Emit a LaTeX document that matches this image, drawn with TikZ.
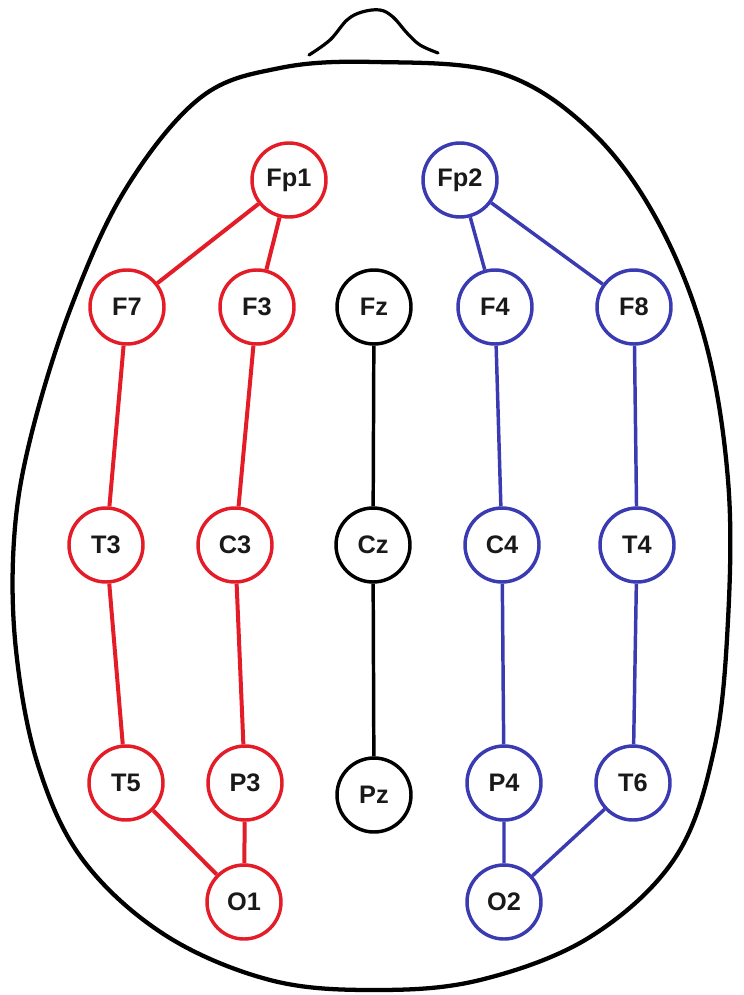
\documentclass[tikz,border=0pt]{standalone}
\usepackage{fontspec}
\setmainfont{Liberation Sans}
\definecolor{eegred}{RGB}{228,28,40}
\definecolor{eegblue}{RGB}{58,58,178}
\definecolor{lbl}{RGB}{25,25,25}
\begin{document}
\begin{tikzpicture}[x=0.75pt,y=-0.75pt,
  electrode/.style={circle, draw, line width=2.6pt, minimum size=55.5pt, inner sep=0pt,
    fill=white, font=\fontsize{19}{21}\selectfont\bfseries, text=lbl},
  redel/.style={electrode, draw=eegred},
  blueel/.style={electrode, draw=eegblue},
  blackel/.style={electrode, draw=black},
  redlink/.style={line width=3pt, eegred},
  bluelink/.style={line width=2.6pt, eegblue},
  blacklink/.style={line width=2.6pt, black},
  outline/.style={line width=3.2pt, black, line cap=round, line join=round}]
\useasboundingbox (0,0) rectangle (743,995);

% head outline
\draw[outline] plot[smooth cycle, tension=0.6] coordinates {
  (375,62) (500,73) (590,130) (657,220)
  (705,340) (728,480) (728,620) (714,750) (675,858)
  (590,937) (480,980) (375,990) (270,980)
  (165,935) (83,860) (38,765) (16,650) (14,540) (30,440)
  (70,310) (125,190) (200,98) (280,68)};
% nose
\draw[outline, line width=2.4pt] plot[smooth, tension=0.6] coordinates {
  (309,55) (330,40) (347,20) (362,12) (380,10) (393,17) (407,33) (420,45) (438,53)};

% left chain
\node[redel] (Fp1) at (289,180) {Fp1};
\node[redel] (F7)  at (127,307) {F7};
\node[redel] (F3)  at (257,307) {F3};
\node[redel] (T3)  at (106,545) {T3};
\node[redel] (C3)  at (235,545) {C3};
\node[redel] (T5)  at (126,783) {T5};
\node[redel] (P3)  at (245,783) {P3};
\node[redel] (O1)  at (244,902) {O1};
% midline
\node[blackel] (Fz) at (374,307) {Fz};
\node[blackel] (Cz) at (373,545) {Cz};
\node[blackel] (Pz) at (374,795) {Pz};
% right chain
\node[blueel] (Fp2) at (460,180) {Fp2};
\node[blueel] (F4)  at (495,307) {F4};
\node[blueel] (F8)  at (634,307) {F8};
\node[blueel] (C4)  at (502,545) {C4};
\node[blueel] (T4)  at (637,545) {T4};
\node[blueel] (P4)  at (504,783) {P4};
\node[blueel] (T6)  at (633,783) {T6};
\node[blueel] (O2)  at (504,902) {O2};

\draw[redlink] (Fp1) -- (F7) -- (T3) -- (T5) -- (O1);
\draw[redlink] (Fp1) -- (F3) -- (C3) -- (P3) -- (O1);
\draw[blacklink] (Fz) -- (Cz) -- (Pz);
\draw[bluelink] (Fp2) -- (F4) -- (C4) -- (P4) -- (O2);
\draw[bluelink] (Fp2) -- (F8) -- (T4) -- (T6) -- (O2);
\end{tikzpicture}
\end{document}
